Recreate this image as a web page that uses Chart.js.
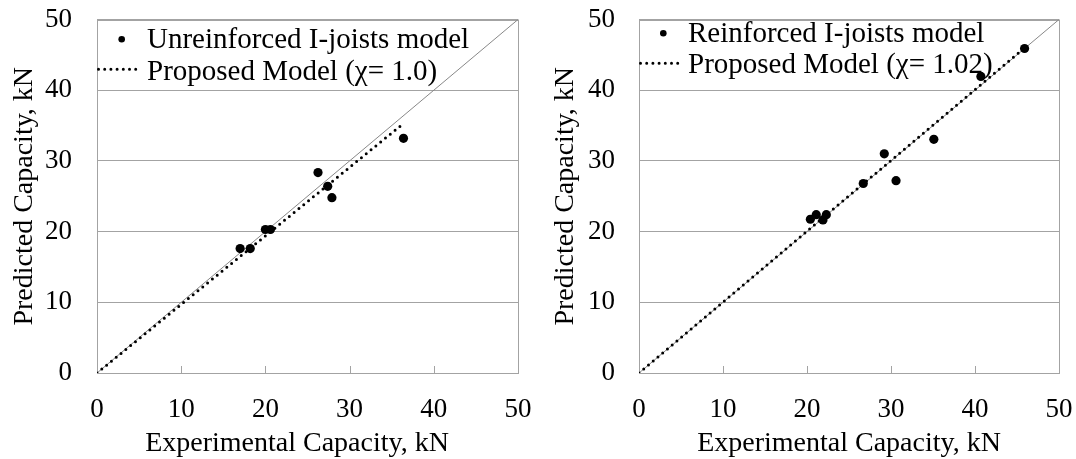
<!DOCTYPE html>
<html><head><meta charset="utf-8">
<script src="https://cdn.jsdelivr.net/npm/chart.js@4.4.1/dist/chart.umd.min.js"></script>
<style>
html,body{margin:0;padding:0;background:#fff;width:1076px;height:459px;overflow:hidden;}
.c{position:absolute;top:0;}
</style></head><body>
<div class="c" style="left:0"><canvas id="c1" width="538" height="459"></canvas></div>
<div class="c" style="left:538px"><canvas id="c2" width="538" height="459"></canvas></div>
<script>
// ---- data ----
const axisTicks = [0, 10, 20, 30, 40, 50];
const identityX = [0, 50];
const identityY = [0, 50];

const unreinfExp  = [17.0, 18.2, 20.0, 20.6, 26.25, 27.4, 27.9, 36.4];
const unreinfPred = [17.6, 17.6, 20.3, 20.3, 28.35, 26.4, 24.8, 33.2];
const unreinfModelX = [0, 36.3];
const unreinfModelY = [0, 35.2];

const reinfExp  = [20.4, 21.1, 21.9, 22.3, 26.7, 29.2, 30.6, 35.1, 40.7, 45.9];
const reinfPred = [21.75, 22.4, 21.65, 22.4, 26.8, 31.0, 27.2, 33.05, 41.95, 45.9];
const reinfModelX = [0, 46.0];
const reinfModelY = [0, 46.1];

const labelsLeft  = ['Unreinforced I-joists model', 'Proposed Model (\u03c7= 1.0)'];
const labelsRight = ['Reinforced I-joists model', 'Proposed Model (\u03c7= 1.02)'];
const xTitle = 'Experimental Capacity, kN';
const yTitle = 'Predicted Capacity, kN';

// ---- helpers ----
const FONT = '"Liberation Serif", "Times New Roman", serif';
const GRID = '#a3a3a3';
const zip = (xs, ys) => xs.map((x, i) => ({x, y: ys[i]}));

function framePlugin(lg) {
  return {
    id: 'frameLegend',
    beforeDatasetsDraw(chart) {
      const ca = chart.chartArea, ctx = chart.ctx, xs = chart.scales.x;
      ctx.save();
      ctx.strokeStyle = GRID; ctx.lineWidth = 1;
      ctx.beginPath();
      ctx.moveTo(ca.left, Math.round(ca.top) + 0.5); ctx.lineTo(ca.right, Math.round(ca.top) + 0.5);
      ctx.moveTo(Math.round(ca.right) + 0.5, ca.top); ctx.lineTo(Math.round(ca.right) + 0.5, ca.bottom);
      // inner x ticks
      axisTicks.slice(1, -1).forEach(v => {
        const px = Math.round(xs.getPixelForValue(v)) + 0.5;
        ctx.moveTo(px, ca.bottom); ctx.lineTo(px, ca.bottom - 7);
      });
      ctx.stroke();
      // legend
      ctx.fillStyle = '#000';
      ctx.beginPath();
      ctx.arc(ca.left + lg.dotX, ca.top + lg.dotY, 3.3, 0, Math.PI * 2);
      ctx.fill();
      ctx.strokeStyle = '#000'; ctx.lineWidth = 3; ctx.lineCap = 'round';
      ctx.setLineDash([0, 6.2]);
      ctx.beginPath();
      ctx.moveTo(ca.left + lg.lineX1, ca.top + lg.lineY);
      ctx.lineTo(ca.left + lg.lineX2, ca.top + lg.lineY);
      ctx.stroke();
      ctx.setLineDash([]);
      ctx.font = '29px ' + FONT;
      ctx.textBaseline = 'alphabetic'; ctx.textAlign = 'left';
      ctx.fillText(lg.labels[0], ca.left + lg.textX, ca.top + lg.base1);
      ctx.fillText(lg.labels[1], ca.left + lg.textX, ca.top + lg.base2);
      ctx.restore();
    }
  };
}

function makeChart(id, o) {
  return new Chart(document.getElementById(id), {
    type: 'scatter',
    data: {
      datasets: [
        { label: o.labels[0], data: zip(o.px, o.py), pointRadius: 4.6, pointHoverRadius: 4.6,
          backgroundColor: '#000', borderWidth: 0, showLine: false },
        { label: o.labels[1], data: zip(o.mx, o.my), showLine: true, pointRadius: 0,
          borderColor: '#000', borderWidth: 3, borderDash: [0, 6.2], borderCapStyle: 'round' },
        { label: '1:1', data: zip(identityX, identityY), showLine: true, pointRadius: 0,
          borderColor: '#888', borderWidth: 1 }
      ]
    },
    options: {
      responsive: false, animation: false, devicePixelRatio: 1,
      layout: { padding: { left: 0, right: o.padRight, top: 19.5, bottom: 0 } },
      plugins: { legend: { display: false }, tooltip: { enabled: false } },
      scales: {
        x: {
          type: 'linear', min: 0, max: 50,
          afterBuildTicks: s => { s.ticks = axisTicks.map(v => ({value: v})); },
          afterFit: s => { s.height = 86; s.paddingLeft = 0; s.paddingRight = 0; s.paddingTop = 0; s.paddingBottom = 0; },
          grid: { drawOnChartArea: false, drawTicks: false },
          border: { color: GRID, width: 1 },
          ticks: { color: '#000', font: { family: FONT, size: 27 }, padding: 21, maxRotation: 0 },
          title: { display: true, text: o.xTitle, color: '#000', font: { family: FONT, size: 28 },
                   padding: { top: 0, bottom: -1 } }
        },
        y: {
          type: 'linear', min: 0, max: 50,
          afterBuildTicks: s => { s.ticks = axisTicks.map(v => ({value: v})); },
          afterFit: s => { s.width = o.yWidth; s.paddingLeft = 0; s.paddingRight = 0; s.paddingTop = 0; s.paddingBottom = 0; },
          grid: { color: GRID, lineWidth: 1, drawTicks: false },
          border: { color: GRID, width: 1 },
          ticks: { color: '#000', font: { family: FONT, size: 27 }, padding: o.yTickPad },
          title: { display: true, text: yTitle, color: '#000', font: { family: FONT, size: 28 },
                   padding: { top: o.yTitlePad, bottom: 0 } }
        }
      }
    },
    plugins: [framePlugin(o.legend)]
  });
}

makeChart('c1', {
  labels: labelsLeft, px: unreinfExp, py: unreinfPred, mx: unreinfModelX, my: unreinfModelY,
  padRight: 20, yWidth: 97, yTickPad: 25, yTitlePad: 8,
  xTitle: xTitle + '\u00a0\u00a0\u00a0',
  legend: { labels: labelsLeft, dotX: 24.7, dotY: 19.8, lineX1: 1.5, lineX2: 43, lineY: 49.8,
            textX: 50, base1: 28.8, base2: 60.5 }
});
makeChart('c2', {
  labels: labelsRight, px: reinfExp, py: reinfPred, mx: reinfModelX, my: reinfModelY,
  padRight: 17, yWidth: 101, yTickPad: 24, yTitlePad: 11,
  xTitle: xTitle,
  legend: { labels: labelsRight, dotX: 24.3, dotY: 13.8, lineX1: 1.5, lineX2: 41, lineY: 43.8,
            textX: 49, base1: 22.2, base2: 53.8 }
});
</script>
</body></html>
